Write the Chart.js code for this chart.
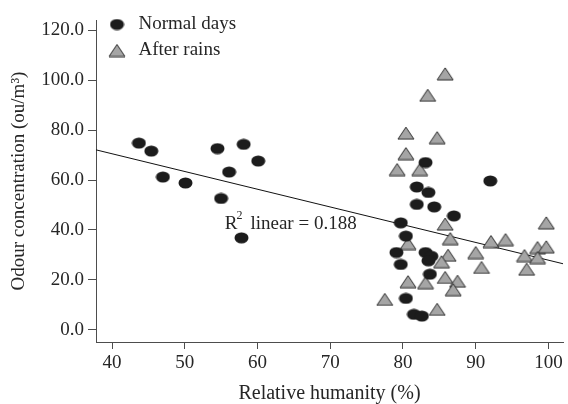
<!DOCTYPE html>
<html>
<head>
<meta charset="utf-8">
<script src="https://cdn.jsdelivr.net/npm/chart.js@4/dist/chart.umd.min.js"></script>
<style>
  html, body { margin: 0; padding: 0; background: #fff; }
  #wrap { width: 568px; height: 404px; }
</style>
</head>
<body>
<div id="wrap"><canvas id="myChart" width="568" height="404"></canvas></div>
<script>
// data
const seriesNames = ['Normal days', 'After rains']
const normalX = [43.7, 45.4, 47.0, 50.1, 54.5, 55.0, 56.1, 58.1, 57.8, 60.1,
    83.1, 81.9, 83.5, 81.9, 84.3, 87.0, 79.7, 80.4, 79.1, 83.1,
    83.9, 83.5, 79.7, 83.7, 80.4, 81.5, 82.6, 92.0]
const normalY = [74.8, 71.6, 61.2, 58.8, 72.6, 52.6, 63.2, 74.3, 36.8, 67.6,
    67.0, 57.2, 55.0, 50.2, 49.2, 45.6, 42.8, 37.5, 30.9, 30.9,
    29.4, 27.6, 26.1, 22.2, 12.5, 6.1, 5.4, 59.6]
const rainX = [85.8, 83.4, 80.4, 84.7, 80.4, 79.2, 82.3, 85.8, 99.7, 86.5,
    80.7, 92.1, 94.1, 98.5, 99.7, 90.0, 86.2, 96.7, 98.5, 85.3,
    90.8, 97.0, 85.8, 80.7, 87.5, 83.1, 86.9, 77.5, 84.7]
const rainY = [102.6, 94.0, 78.8, 77.0, 70.6, 64.2, 64.2, 42.3, 42.8, 36.5,
    34.5, 35.3, 36.1, 32.9, 33.2, 30.9, 29.8, 29.7, 28.9, 27.2,
    24.9, 24.2, 20.9, 19.2, 19.4, 18.8, 16.0, 12.1, 8.1]
// linear fit, R2 = 0.188
const fitX = [37.8, 102.0]
const fitY = [72.1, 26.4]
const fitLabel = 'linear = 0.188'

const xTicks = [40, 50, 60, 70, 80, 90, 100]
const yTicks = [0, 20, 40, 60, 80, 100, 120]

const toPoints = (xs, ys) => xs.map((x, i) => ({ x: x, y: ys[i] }))

const serif = 'Liberation Serif, Times New Roman, serif'
const textColor = '#262626'
const axisColor = '#4d4d4d'

// marker images: slightly flat dots and grey triangles
const makeDot = () => {
    const c = document.createElement('canvas')
    c.width = 15
    c.height = 12
    const ctx = c.getContext('2d')
    ctx.fillStyle = '#1c1c1c'
    ctx.beginPath()
    ctx.ellipse(7.5, 6, 7, 5.5, 0, 0, Math.PI * 2)
    ctx.fill()
    return c
}
const makeTriangle = () => {
    const c = document.createElement('canvas')
    c.width = 18
    c.height = 14
    const ctx = c.getContext('2d')
    ctx.fillStyle = '#a5a5a5'
    ctx.strokeStyle = '#2a2a2a'
    ctx.lineWidth = 1
    ctx.beginPath()
    ctx.moveTo(9, 1)
    ctx.lineTo(17, 13)
    ctx.lineTo(1, 13)
    ctx.closePath()
    ctx.fill()
    ctx.stroke()
    return c
}
const dotImg = makeDot()
const triImg = makeTriangle()

// R² label drawn on the chart
const r2Label = {
    id: 'r2Label',
    afterDatasetsDraw(chart) {
        const ctx = chart.ctx
        const xs = chart.scales.x
        const ys = chart.scales.y
        let px = xs.getPixelForValue(55.5)
        let py = ys.getPixelForValue(40.3)
        ctx.save()
        ctx.fillStyle = textColor
        ctx.textBaseline = 'alphabetic'
        ctx.font = '19px ' + serif
        ctx.fillText('R', px, py)
        let w = ctx.measureText('R').width
        ctx.font = '12px ' + serif
        ctx.fillText('2', px + w - 1, py - 10)
        ctx.font = '19px ' + serif
        ctx.fillText(fitLabel, px + w + 13, py)
        ctx.restore()
    }
}

// legend sits a bit above the top of the plot
const legendShift = {
    id: 'legendShift',
    afterLayout(chart) {
        chart.legend.top = chart.chartArea.top - 12
        chart.legend.left = chart.chartArea.left + 2
    }
}

const config = {
    type: 'scatter',
    data: {
        datasets: [
            {
                label: seriesNames[0],
                data: toPoints(normalX, normalY),
                pointStyle: dotImg,
                backgroundColor: '#1c1c1c',
                borderColor: '#1c1c1c'
            },
            {
                label: seriesNames[1],
                data: toPoints(rainX, rainY),
                pointStyle: triImg,
                backgroundColor: '#a5a5a5',
                borderColor: '#2a2a2a'
            },
            {
                type: 'line',
                label: 'fit',
                data: toPoints(fitX, fitY),
                borderColor: '#111',
                borderWidth: 1,
                pointRadius: 0,
                fill: false
            }
        ]
    },
    options: {
        responsive: false,
        animation: false,
        layout: { padding: { top: 20, right: 0, bottom: 0, left: 0 } },
        plugins: {
            tooltip: { enabled: false },
            legend: {
                position: 'chartArea',
                align: 'start',
                labels: {
                    usePointStyle: true,
                    pointStyleWidth: 24,
                    boxHeight: 10,
                    padding: 7,
                    color: textColor,
                    font: { family: serif, size: 19 },
                    filter: item => item.text !== 'fit'
                }
            }
        },
        scales: {
            x: {
                type: 'linear',
                min: 37.8,
                max: 102.0,
                afterBuildTicks: scale => { scale.ticks = xTicks.map(v => ({ value: v })) },
                afterFit: scale => {
                    scale.height = 62
                    scale.paddingRight = 0
                },
                grid: { drawOnChartArea: false, drawTicks: true, tickLength: 7, color: axisColor },
                border: { color: axisColor, width: 1 },
                ticks: { color: textColor, font: { family: serif, size: 19 }, padding: 3, maxRotation: 0 },
                title: {
                    display: true,
                    text: 'Relative humanity (%)',
                    color: textColor,
                    font: { family: serif, size: 20 },
                    padding: { top: 0, bottom: -2 }
                }
            },
            y: {
                type: 'linear',
                min: -5.0,
                max: 124.2,
                afterBuildTicks: scale => { scale.ticks = yTicks.map(v => ({ value: v })) },
                afterFit: scale => { scale.width = 96 },
                grid: { drawOnChartArea: false, drawTicks: true, tickLength: 8, color: axisColor },
                border: { color: axisColor, width: 1 },
                ticks: {
                    color: textColor,
                    font: { family: serif, size: 19 },
                    padding: 4,
                    callback: v => v.toFixed(1)
                },
                title: {
                    display: true,
                    text: 'Odour concentration (ou/m³)',
                    color: textColor,
                    font: { family: serif, size: 19 },
                    padding: { top: 8, bottom: 0 }
                }
            }
        }
    },
    plugins: [r2Label, legendShift]
}

const myChart = new Chart(document.getElementById('myChart'), config)
</script>
</body>
</html>
